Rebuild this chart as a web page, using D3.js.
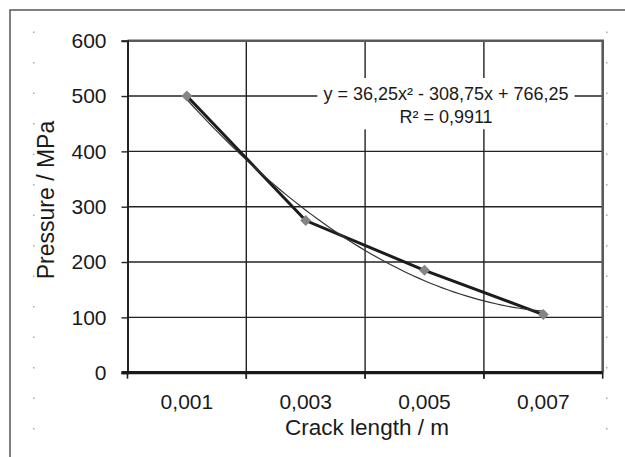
<!DOCTYPE html>
<html>
<head>
<meta charset="utf-8">
<script src="https://cdn.jsdelivr.net/npm/d3@7"></script>
<style>
	body { margin: 0; background: #fff; }
	svg text { font-family: "Liberation Sans", Arial, sans-serif; fill: #1a1a1a; }
</style>
</head>
<body>
<svg id="chart" width="625" height="457"></svg>
<script>
// crack length categories and measured pressure
var crackLabels = ["0,001", "0,003", "0,005", "0,007"];
var pressureValues = [500, 275, 185, 105];
var yTicks = [0, 100, 200, 300, 400, 500, 600];
// polynomial trendline y = a*x^2 + b*x + c (x = category index 1..4)
var trendCoef = [36.25, -308.75, 766.25];
var trendLabel = ["y = 36,25x\u00b2 - 308,75x + 766,25", "R\u00b2 = 0,9911"];

var svg = d3.select("#chart"),
	margin = {top: 40.7, right: 22.3, bottom: 84.3, left: 127.5},
	width = +svg.attr("width") - margin.left - margin.right,
	height = +svg.attr("height") - margin.top - margin.bottom;

// outer frame of the chart area
svg.append("rect")
	.attr("x", 10).attr("y", 10)
	.attr("width", 640).attr("height", 470)
	.attr("fill", "none")
	.attr("stroke", "#555")
	.attr("stroke-width", 1.5);

// faint dotted marks along the frame sides
[33, 606].forEach(function(px) {
	svg.append("g").selectAll("rect")
		.data(d3.range(31.5, 440, 30.5))
		.enter().append("rect")
		.attr("x", px).attr("y", function(d) { return d; })
		.attr("width", 1.5).attr("height", 1.5)
		.attr("fill", "#aaa");
});

var g = svg.append("g").attr("transform", "translate(" + margin.left + "," + margin.top + ")");

var x = d3.scaleBand().domain(crackLabels).range([0, width]).padding(0);
var y = d3.scaleLinear().domain([0, 600]).range([height, 0]);
var xi = d3.scaleLinear().domain([1, crackLabels.length])
	.range([x.bandwidth() / 2, width - x.bandwidth() / 2]);

// horizontal gridlines
g.append("g").selectAll("line")
	.data(yTicks.filter(function(d) { return d > 0 && d < 600; }))
	.enter().append("line")
	.attr("x1", 0).attr("x2", width)
	.attr("y1", function(d) { return y(d); }).attr("y2", function(d) { return y(d); })
	.attr("stroke", "#222").attr("stroke-width", 1.4);

// vertical gridlines at category boundaries
var bounds = crackLabels.map(function(c) { return x(c); }).concat([width]);
g.append("g").selectAll("line")
	.data(bounds.slice(1, -1))
	.enter().append("line")
	.attr("x1", function(d) { return d; }).attr("x2", function(d) { return d; })
	.attr("y1", 0).attr("y2", height + 6)
	.attr("stroke", "#222").attr("stroke-width", 1.4);

// top and right borders of plot area
g.append("path")
	.attr("d", "M0,0H" + width + "V" + height)
	.attr("fill", "none").attr("stroke", "#5a5a5a").attr("stroke-width", 2.6);

// y axis
var yAxis = g.append("g")
	.call(d3.axisLeft(y).tickValues(yTicks).tickSize(6).tickPadding(15));
yAxis.select(".domain").attr("stroke", "#222").attr("stroke-width", 2);
yAxis.selectAll(".tick line").attr("stroke", "#222").attr("stroke-width", 1.4);
yAxis.selectAll(".tick text").style("font-size", "21px").attr("fill", "#1a1a1a");

// x axis
var xAxis = g.append("g")
	.attr("transform", "translate(0," + height + ")")
	.call(d3.axisBottom(x).tickSize(0).tickPadding(21));
xAxis.select(".domain").remove();
xAxis.selectAll(".tick text").style("font-size", "21px").attr("fill", "#1a1a1a");
g.append("g").selectAll("line")
	.data(bounds)
	.enter().append("line")
	.attr("x1", function(d) { return d; }).attr("x2", function(d) { return d; })
	.attr("y1", height).attr("y2", height + 6)
	.attr("stroke", "#222").attr("stroke-width", 1.6);
g.append("line")
	.attr("x1", -6).attr("x2", width)
	.attr("y1", height).attr("y2", height)
	.attr("stroke", "#1a1a1a").attr("stroke-width", 3.2);

// data line
var line = d3.line()
	.x(function(d, i) { return x(crackLabels[i]) + x.bandwidth() / 2; })
	.y(function(d) { return y(d); });
g.append("path")
	.datum(pressureValues)
	.attr("d", line)
	.attr("fill", "none").attr("stroke", "#1c1c1c").attr("stroke-width", 3);

// trendline
var trendPts = d3.range(1, crackLabels.length + 0.001, 0.05).map(function(t) {
	return [xi(t), y(trendCoef[0] * t * t + trendCoef[1] * t + trendCoef[2])];
});
g.append("path")
	.attr("d", d3.line()(trendPts))
	.attr("fill", "none").attr("stroke", "#333").attr("stroke-width", 1.2);

// markers
g.append("g").selectAll("path")
	.data(pressureValues)
	.enter().append("path")
	.attr("d", d3.symbol(d3.symbolSquare, 60))
	.attr("transform", function(d, i) {
		return "translate(" + (x(crackLabels[i]) + x.bandwidth() / 2) + "," + y(d) + ") rotate(45)";
	})
	.attr("fill", "#858585");

// trendline label with white box
var lbl = g.append("g").attr("transform", "translate(" + (446 - margin.left) + ",0)");
var lblBox = lbl.append("rect").attr("fill", "#fff");
lbl.selectAll("text")
	.data(trendLabel)
	.enter().append("text")
	.attr("text-anchor", "middle")
	.attr("y", function(d, i) { return 100 - margin.top + i * 23.3; })
	.style("font-size", "18px")
	.text(function(d) { return d; });
var bb = lbl.node().getBBox();
lblBox.attr("x", bb.x - 6).attr("y", bb.y - 6)
	.attr("width", bb.width + 12).attr("height", bb.height + 8);

// axis titles
svg.append("text")
	.attr("x", 367).attr("y", 435)
	.attr("text-anchor", "middle")
	.style("font-size", "22.5px")
	.text("Crack length / m");
svg.append("text")
	.attr("transform", "translate(54,200) rotate(-90)")
	.attr("text-anchor", "middle")
	.style("font-size", "23px")
	.text("Pressure / MPa");
</script>
</body>
</html>
